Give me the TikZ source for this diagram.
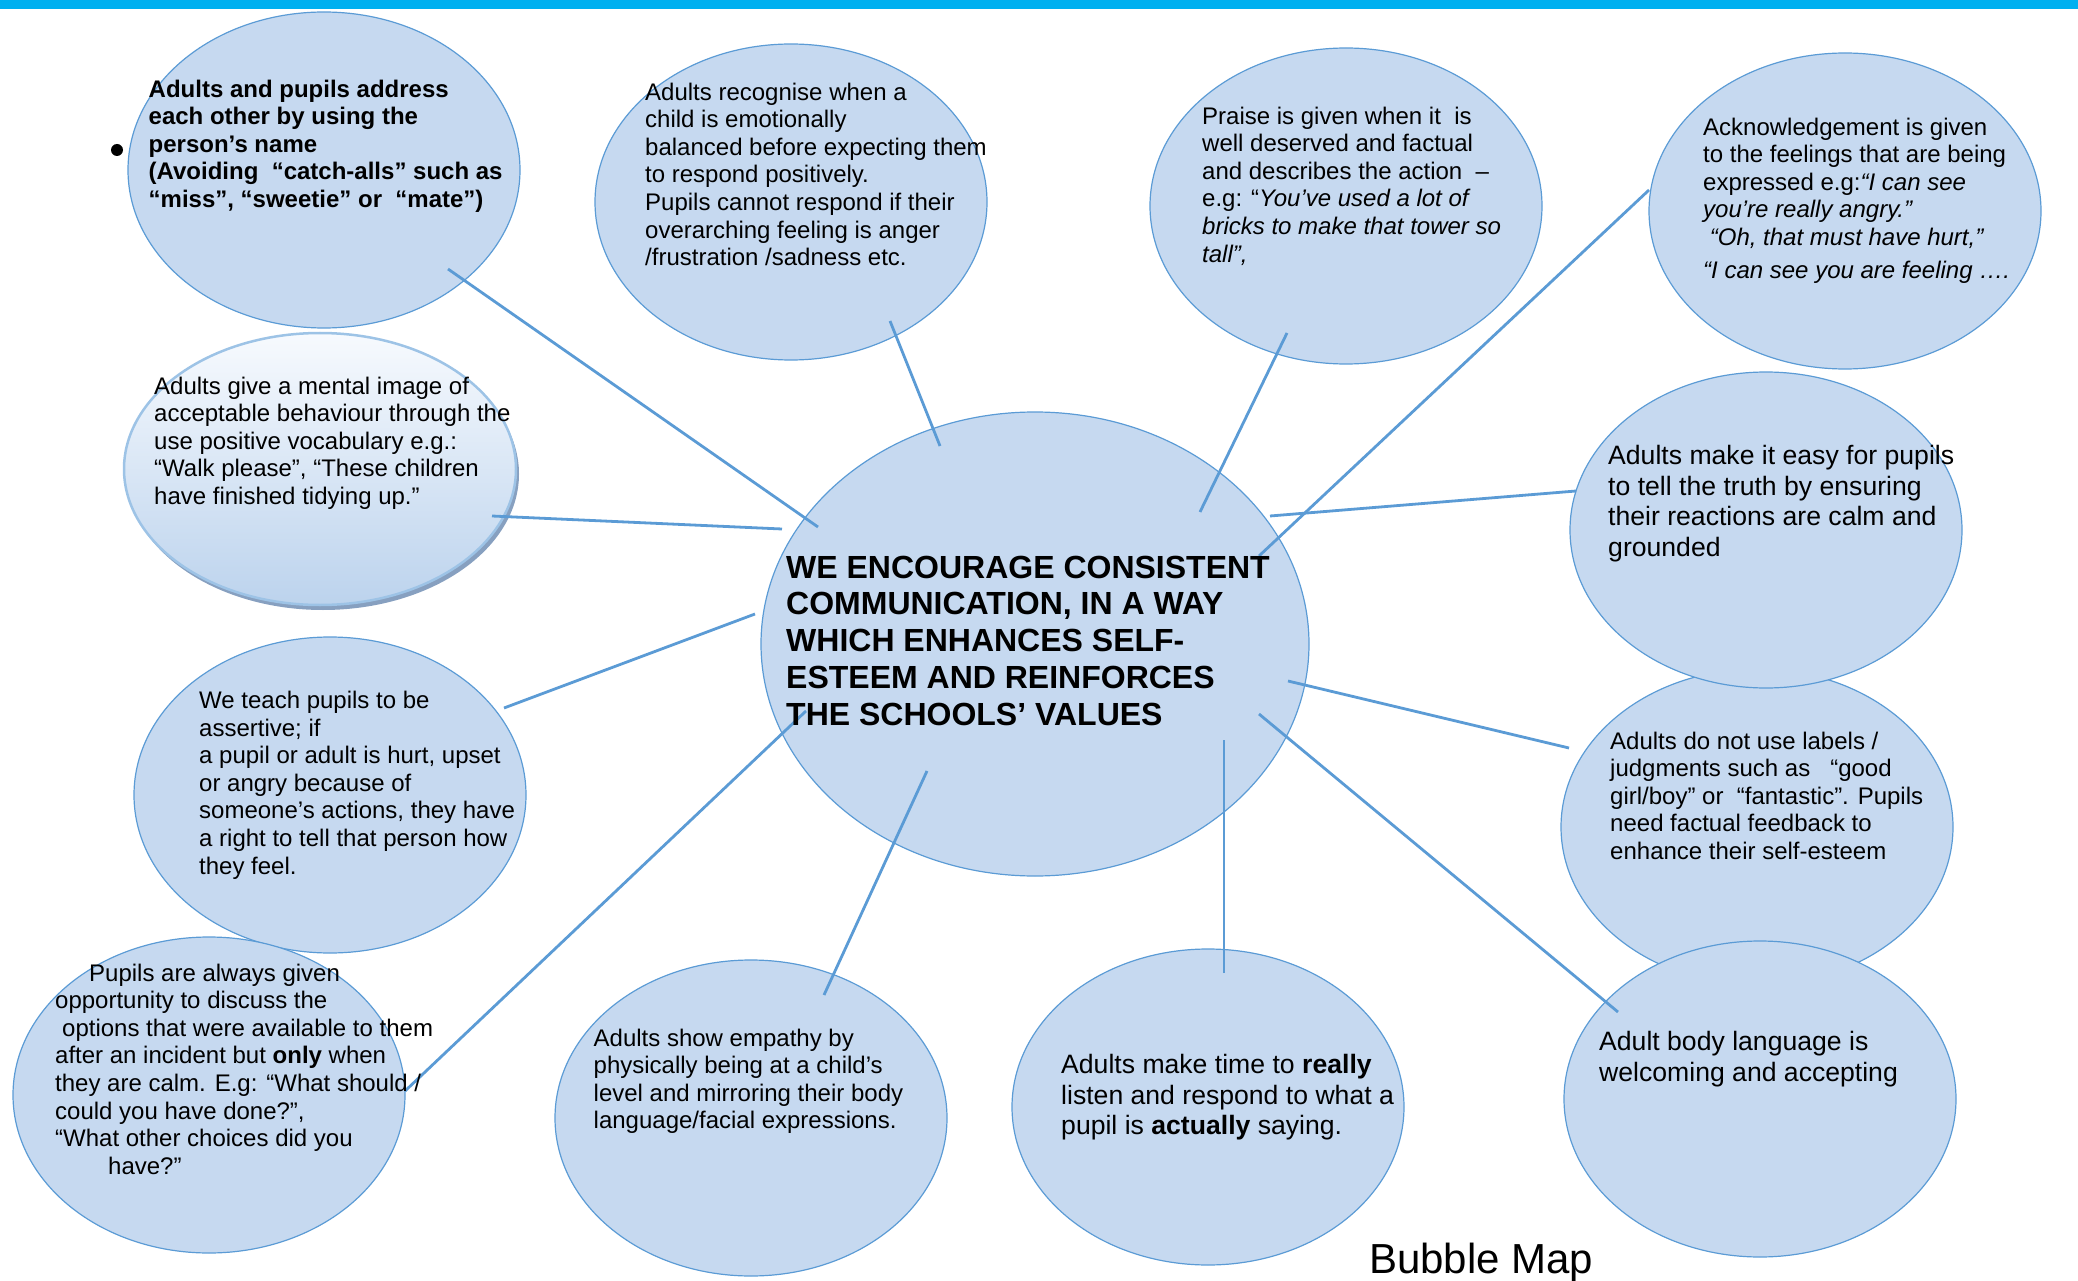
\documentclass[tikz,border=0pt]{standalone}
\usepackage{fontspec}
\setmainfont{Liberation Sans}
\usetikzlibrary{shapes.geometric,shadows}
\definecolor{barblue}{RGB}{0,176,240}
\definecolor{bubblefill}{RGB}{198,217,240}
\definecolor{bubbleline}{RGB}{91,155,213}
\definecolor{linkblue}{RGB}{91,155,213}
\definecolor{glowtop}{RGB}{247,250,254}
\definecolor{glowbottom}{RGB}{188,211,237}
\definecolor{glowline}{RGB}{157,195,230}
\definecolor{shadowblue}{RGB}{135,160,192}

\tikzset{
  bubble/.style={ellipse, draw=bubbleline, fill=bubblefill, line width=1.2pt,
    minimum width=392pt, minimum height=316pt, inner sep=0pt},
  link/.style={draw=linkblue, line width=2.8pt},
  note/.style={anchor=north west, align=left, inner sep=0pt,
    font=\fontsize{24}{27.6}\selectfont},
  bignote/.style={note, font=\fontsize{26.6}{30.6}\selectfont},
}

\begin{document}
\begin{tikzpicture}[x=1pt, y=-1pt]
  \useasboundingbox (0,0) rectangle (2078,1281);
  % strip along the top edge
  \fill[barblue] (0,0) rectangle (2078,9);

  % outer bubbles
  \node[bubble] (names) at (324,170) {};
  \node[bubble] (recognise) at (791,202) {};
  \node[bubble] (praise) at (1346,206) {};
  \node[bubble] (acknowledge) at (1845,211) {};
  \node[bubble] (labels) at (1757,827) {};
  \node[bubble] (truth) at (1766,530) {};
  \node[bubble] (body) at (1760,1099) {};
  \node[ellipse, minimum width=392pt, minimum height=272pt, inner sep=0pt,
    top color=glowtop, bottom color=glowbottom, draw=glowline, line width=2.5pt,
    drop shadow={shadow xshift=3pt, shadow yshift=-5pt, fill=shadowblue, opacity=1}]
    (image) at (320,469) {};
  \node[bubble] (assert) at (330,795) {};
  \node[bubble] (options) at (209,1095) {};
  \node[bubble] (empathy) at (751,1118) {};
  \node[bubble] (time) at (1208,1107) {};
  % central bubble
  \node[bubble, minimum width=548pt, minimum height=464pt] (hub) at (1035,644) {};

  % spoke ends
  \coordinate (names-tip) at (448,269);        \coordinate (hub-names) at (818,527);
  \coordinate (recognise-tip) at (890,321);    \coordinate (hub-recognise) at (940,446);
  \coordinate (image-tip) at (492,516);        \coordinate (hub-image) at (782,529);
  \coordinate (praise-tip) at (1287,333);      \coordinate (hub-praise) at (1200,512);
  \coordinate (acknowledge-tip) at (1649,190); \coordinate (hub-acknowledge) at (1259,556);
  \coordinate (truth-tip) at (1576,491);       \coordinate (hub-truth) at (1270,516);
  \coordinate (assert-tip) at (504,708);       \coordinate (hub-assert) at (755,614);
  \coordinate (options-tip) at (405,1091);     \coordinate (hub-options) at (806,711);
  \coordinate (empathy-tip) at (824,995);      \coordinate (hub-empathy) at (927,771);
  \coordinate (time-tip) at (1224,973);        \coordinate (hub-time) at (1224,740);
  \coordinate (body-tip) at (1618,1012);       \coordinate (hub-body) at (1259,714);
  \coordinate (labels-tip) at (1569,748);      \coordinate (hub-labels) at (1288,681);
  \foreach \b in {names,recognise,image,praise,acknowledge,truth,assert,options,empathy,time,body,labels}
    \draw[link] (\b-tip) -- (hub-\b);

  % texts
  \node[circle, fill=black, minimum size=12pt, inner sep=0pt] (bullet) at (117,150) {};
  \node[note, font=\fontsize{24}{27.6}\selectfont\bfseries] (names-text) at (148.5,79.5)
    {Adults and pupils address\\each other by using the\\person’s name\\(Avoiding~~“catch-alls” such as\\“miss”, “sweetie” or~~“mate”)};
  \node[note] (recognise-text) at (645,82.5)
    {Adults recognise when a\\child is emotionally\\balanced before expecting them\\to respond positively.\\Pupils cannot respond if their\\overarching feeling is anger\\/frustration /sadness etc.};
  \node[note] (praise-text) at (1202,106.5)
    {Praise is given when it~ is\\well deserved and factual\\and describes the action~ –\\e.g: “\textit{You’ve used a lot of}\\\textit{bricks to make that tower so}\\\textit{tall”,}};
  \node[note] (acknowledge-text) at (1703,117.5)
    {Acknowledgement is given\\to the feelings that are being\\expressed e.g:\textit{“I can see}\\\textit{you’re really angry.”}\\\textit{~“Oh, that must have hurt,”}\\[5pt]\textit{“I can see you are feeling ….}};
  \node[bignote] (truth-text) at (1608,445)
    {Adults make it easy for pupils\\to tell the truth by ensuring\\their reactions are calm and\\grounded};
  \node[note] (image-text) at (154,376.5)
    {Adults give a mental image of\\acceptable behaviour through the\\use positive vocabulary e.g.:\\“Walk please”, “These children\\have finished tidying up.”};
  \node[note, font=\fontsize{32}{36.8}\selectfont\bfseries] (hub-text) at (786,555.6)
    {WE ENCOURAGE CONSISTENT\\COMMUNICATION, IN A WAY\\WHICH ENHANCES SELF-\\ESTEEM AND REINFORCES\\THE SCHOOLS’ VALUES};
  \node[note] (assert-text) at (199,691)
    {We teach pupils to be\\assertive; if\\a pupil or adult is hurt, upset\\or angry because of\\someone’s actions, they have\\a right to tell that person how\\they feel.};
  \node[note] (options-text) at (55,963.5)
    {\hspace*{34pt}Pupils are always given\\opportunity to discuss the\\\hspace*{7pt}options that were available to them\\after an incident but \textbf{only} when\\they are calm. E.g: “What should /\\could you have done?”,\\“What other choices did you\\\hspace*{53pt}have?”};
  \node[note] (empathy-text) at (593.5,1028.5)
    {Adults show empathy by\\physically being at a child’s\\level and mirroring their body\\language/facial expressions.};
  \node[bignote] (time-text) at (1061,1054)
    {Adults make time to \textbf{really}\\listen and respond to what a\\pupil is \textbf{actually} saying.};
  \node[note] (labels-text) at (1610,731.5)
    {Adults do not use labels /\\judgments such as~~~“good\\girl/boy” or~~“fantastic”. Pupils\\need factual feedback to\\enhance their self-esteem};
  \node[bignote] (body-text) at (1599,1031.5)
    {Adult body language is\\welcoming and accepting};
  \node[anchor=base west, inner sep=0pt, font=\fontsize{42}{48}\selectfont] (title) at (1369,1273)
    {Bubble Map};
\end{tikzpicture}
\end{document}
